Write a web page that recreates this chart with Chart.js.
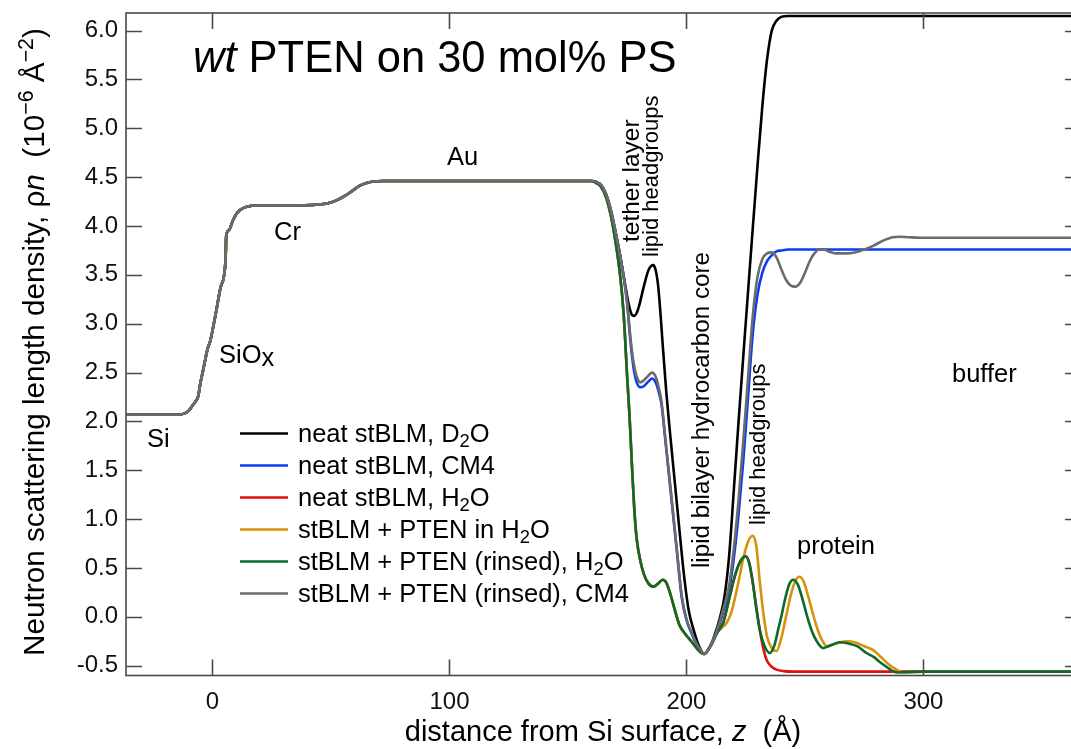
<!DOCTYPE html>
<html>
<head>
<meta charset="utf-8">
<script src="https://cdn.jsdelivr.net/npm/chart.js@4.4.1/dist/chart.umd.min.js"></script>
<style>
  html, body { margin:0; padding:0; background:#fff; overflow:hidden; }
  #wrap { position:relative; width:1090px; height:749px; }
</style>
</head>
<body>
<div id="wrap"><canvas id="c" width="1090" height="749"></canvas></div>
<script>
// ---------- Data (z in Å, rho in 1e-6 Å^-2) ----------
// substrate part, common to every fit: Si / SiOx / Cr / Au
const zSubstrate   = [-37, -20, -15, -12, -10, -8.5, -7, -6, -5.2, -4, -3, -2, -1, 0, 1.5, 3.5, 5.5, 5.8, 7, 8.5, 10, 12, 15, 18, 30, 45, 50, 53, 56, 59, 62, 65, 68, 72, 100, 150, 160];
const rhoSubstrate = [2.07, 2.07, 2.07, 2.08, 2.11, 2.16, 2.21, 2.26, 2.38, 2.52, 2.64, 2.75, 2.82, 2.93, 3.12, 3.38, 3.64, 3.9, 3.96, 4.05, 4.12, 4.17, 4.2, 4.21, 4.21, 4.22, 4.24, 4.27, 4.31, 4.36, 4.41, 4.44, 4.455, 4.46, 4.46, 4.46, 4.46];

// neat stBLM, D2O
const zD2O   = [162, 164, 166, 168, 170, 172, 174, 175, 176, 177, 178, 179, 180, 182, 184, 186, 187, 188, 189, 190, 191.5, 193, 195, 197, 199, 201, 203, 205, 207.5, 210, 212, 214, 216, 218, 220, 222, 224, 226, 228, 230, 232, 234, 236, 238, 240, 243, 370];
const rhoD2O = [4.45, 4.42, 4.33, 4.17, 3.95, 3.7, 3.42, 3.28, 3.16, 3.09, 3.08, 3.11, 3.18, 3.38, 3.55, 3.6, 3.55, 3.4, 3.12, 2.78, 2.3, 1.9, 1.4, 0.9, 0.42, 0.06, -0.13, -0.28, -0.38, -0.3, -0.18, -0.02, 0.2, 0.62, 1.3, 2.0, 2.67, 3.33, 3.98, 4.62, 5.22, 5.7, 6.0, 6.1, 6.14, 6.15, 6.15];

// neat stBLM, CM4
const zCM4   = [162, 164, 166, 168, 170, 172, 174, 175, 176, 177, 178, 179, 180.5, 182, 184, 185.5, 187, 188, 189.5, 191, 192.5, 194, 196, 198, 200, 202, 204, 206, 207.5, 210, 212, 214, 216, 218, 220, 222, 224, 226, 228, 230, 232, 234, 236, 238, 240, 243, 370];
const rhoCM4 = [4.45, 4.42, 4.33, 4.17, 3.95, 3.7, 3.4, 3.2, 2.92, 2.68, 2.5, 2.4, 2.35, 2.36, 2.41, 2.44, 2.4, 2.33, 2.17, 1.83, 1.48, 1.13, 0.66, 0.2, -0.03, -0.16, -0.27, -0.35, -0.38, -0.31, -0.21, -0.07, 0.09, 0.27, 0.6, 1.05, 1.6, 2.25, 2.9, 3.3, 3.52, 3.64, 3.7, 3.74, 3.75, 3.76, 3.76];

// inner bilayer part shared by the three H2O fits
const zInnerH2O   = [162, 164, 166, 168, 170, 172, 173.5, 175, 176, 177, 178, 179, 180.5, 182, 184, 186, 188, 190, 191.5, 193, 195, 197, 199, 201, 203, 205, 207.5, 210, 213];
const rhoInnerH2O = [4.44, 4.4, 4.3, 4.12, 3.85, 3.5, 3.1, 2.45, 2.05, 1.55, 1.1, 0.8, 0.58, 0.44, 0.34, 0.31, 0.34, 0.38, 0.35, 0.25, 0.08, -0.08, -0.16, -0.22, -0.28, -0.34, -0.38, -0.3, -0.16];

// neat stBLM, H2O (outer part)
const zH2O   = [215.5, 218, 220, 222, 224, 225, 226.5, 228, 229.5, 231, 232.5, 234, 236, 238, 241, 245, 370];
const rhoH2O = [-0.06, 0.18, 0.38, 0.53, 0.61, 0.62, 0.55, 0.35, 0.1, -0.14, -0.33, -0.45, -0.51, -0.54, -0.555, -0.56, -0.56];

// stBLM + PTEN in H2O (outer part)
const zPten   = [215, 217, 219, 221, 222.5, 224, 226, 228, 229.5, 231, 232.5, 234, 236, 238, 240, 242, 244, 246, 247.7, 249.5, 251.5, 253.5, 255.5, 257.5, 259.2, 262, 265, 267.6, 271, 275, 278.8, 281.6, 285, 288.7, 291.5, 295, 300, 370];
const rhoPten = [-0.11, -0.06, 0.05, 0.25, 0.42, 0.6, 0.77, 0.83, 0.72, 0.35, 0.03, -0.2, -0.32, -0.35, -0.22, 0.0, 0.22, 0.37, 0.41, 0.36, 0.2, 0.02, -0.14, -0.25, -0.3, -0.28, -0.26, -0.25, -0.26, -0.3, -0.34, -0.4, -0.48, -0.54, -0.57, -0.565, -0.56, -0.56];

// stBLM + PTEN (rinsed), H2O (outer part)
const zRinsedH2O   = [215.5, 218, 220, 222, 224, 225, 226.5, 228, 229.5, 231, 233, 235.2, 237, 239, 240, 242, 243.5, 245, 247, 249, 251, 253, 255, 257.7, 261, 264.8, 268, 272, 276, 279, 282, 285.5, 288.7, 292, 300, 370];
const rhoRinsedH2O = [-0.06, 0.18, 0.38, 0.53, 0.61, 0.62, 0.55, 0.35, 0.08, -0.14, -0.3, -0.37, -0.3, -0.1, 0.0, 0.22, 0.34, 0.38, 0.33, 0.18, 0.0, -0.15, -0.25, -0.32, -0.29, -0.26, -0.27, -0.3, -0.37, -0.41, -0.47, -0.53, -0.57, -0.565, -0.56, -0.56];

// stBLM + PTEN (rinsed), CM4
const zRinsedCM4   = [162, 164, 166, 168, 170, 172, 174, 175, 176, 177, 178, 179, 180.5, 182, 184, 185.5, 187, 188, 189.5, 191, 192.5, 194, 196, 198, 200, 202, 204, 206, 207.5, 210, 212, 214, 216, 218, 220, 222, 224, 226, 228, 230, 232, 234, 236, 238, 240, 242, 244, 246, 248, 250, 252, 254, 256, 258, 260, 263, 267, 271, 275, 279, 283, 287, 290, 294, 300, 370];
const rhoRinsedCM4 = [4.45, 4.42, 4.33, 4.17, 3.95, 3.7, 3.4, 3.22, 2.95, 2.72, 2.56, 2.46, 2.40, 2.42, 2.47, 2.5, 2.46, 2.38, 2.2, 1.85, 1.5, 1.15, 0.68, 0.22, -0.02, -0.15, -0.26, -0.34, -0.38, -0.3, -0.2, -0.05, 0.12, 0.32, 0.7, 1.2, 1.8, 2.45, 3.08, 3.48, 3.66, 3.72, 3.73, 3.68, 3.56, 3.45, 3.39, 3.38, 3.42, 3.52, 3.64, 3.72, 3.76, 3.76, 3.74, 3.72, 3.72, 3.73, 3.76, 3.8, 3.85, 3.885, 3.89, 3.885, 3.88, 3.88];

const seriesLabels = ['neat stBLM, D₂O', 'neat stBLM, CM4', 'neat stBLM, H₂O', 'stBLM + PTEN in H₂O', 'stBLM + PTEN (rinsed), H₂O', 'stBLM + PTEN (rinsed), CM4'];
const seriesColors = ['#000000', '#0a3cf5', '#e0100c', '#d8920a', '#0b6a2c', '#6b6b6b'];
const drawOrder    = [5, 4, 3, 2, 1, 0];   // lower = on top

const xTicks = [0, 100, 200, 300];
const yTicks = [-0.5, 0, 0.5, 1, 1.5, 2, 2.5, 3, 3.5, 4, 4.5, 5, 5.5, 6];

// ---------- Helpers ----------
const FONT = "'Liberation Sans', Arial, Helvetica, sans-serif";
function pts(zs, rs){ return zs.map((z,i)=>({x:z, y:rs[i]})); }
function profile(...pairs){
  let out = pts(zSubstrate, rhoSubstrate);
  for (const [zs, rs] of pairs) out = out.concat(pts(zs, rs));
  return out;
}

// rich text: parts = [[text, flags]] ; flags: i=italic, b=sub, p=sup, d=slightly lowered
function richWidth(ctx, parts, size){
  let w = 0;
  for (const [t, f=''] of parts){
    const s = (f.includes('b')||f.includes('p')) ? size*0.72 : size;
    ctx.font = (f.includes('i')?'italic ':'') + s + 'px ' + FONT;
    w += ctx.measureText(t).width;
  }
  return w;
}
function drawRich(ctx, parts, x, y, size){
  for (const [t, f=''] of parts){
    const small = f.includes('b')||f.includes('p');
    const s = small ? size*0.72 : size;
    ctx.font = (f.includes('i')?'italic ':'') + s + 'px ' + FONT;
    let dy = 0;
    if (f.includes('b')) dy = size*0.2;
    if (f.includes('p')) dy = -size*0.38;
    if (f.includes('d')) dy = size*0.11;
    ctx.fillText(t, x, y + dy);
    x += ctx.measureText(t).width;
  }
}
function labelParts(label){
  return label.split(/(₂)/).filter(s=>s).map(s => s==='₂' ? ['2','b'] : [s,'']);
}
function rotatedText(ctx, parts, x, y, size){
  ctx.save();
  ctx.translate(x, y);
  ctx.rotate(-Math.PI/2);
  drawRich(ctx, parts, 0, 0, size);
  ctx.restore();
}

// ---------- Decorations: frame, inward ticks, titles, labels, legend ----------
const decor = {
  id: 'decor',
  afterDraw(chart){
    const {ctx, chartArea:{left, right, top, bottom}, scales:{x, y}} = chart;
    ctx.save();
    ctx.strokeStyle = '#4a4a4a';
    ctx.lineWidth = 1.6;
    ctx.strokeRect(left, top, right-left, bottom-top);
    ctx.beginPath();
    for (const v of xTicks){
      const px = Math.round(x.getPixelForValue(v)) + 0.5;
      ctx.moveTo(px, bottom); ctx.lineTo(px, bottom-16);
      ctx.moveTo(px, top); ctx.lineTo(px, top+16);
    }
    for (const v of yTicks){
      const py = Math.round(y.getPixelForValue(v)) + 0.5;
      ctx.moveTo(left, py); ctx.lineTo(left+16, py);
      ctx.moveTo(right, py); ctx.lineTo(right-16, py);
    }
    ctx.stroke();

    ctx.fillStyle = '#000';
    ctx.textBaseline = 'alphabetic';
    ctx.textAlign = 'left';

    // chart title
    drawRich(ctx, [['wt','i'], [' PTEN on 30 mol% PS']], 193, 72, 43.5);

    // axis titles
    const xt = [['distance from Si surface, '], ['z','i'], ['  (Å)']];
    drawRich(ctx, xt, 603 - richWidth(ctx, xt, 29)/2, 741, 29);
    const yt = [['Neutron scattering length density, ρ'], ['n','i'], ['  (10'], ['−6','p'], [' Å'], ['−2','p'], [')']];
    rotatedText(ctx, yt, 44, 342 + richWidth(ctx, yt, 29.7)/2, 29.7);

    // region labels
    drawRich(ctx, [['Au']], 447, 165, 25.5);
    drawRich(ctx, [['Cr']], 274, 240, 25.5);
    drawRich(ctx, [['SiO'], ['x','d']], 219, 363, 25.5);
    drawRich(ctx, [['Si']], 147, 447, 25.5);
    drawRich(ctx, [['buffer']], 952, 382, 25.5);
    drawRich(ctx, [['protein']], 797, 554, 25.5);
    rotatedText(ctx, [['tether layer']], 639, 242, 24.5);
    rotatedText(ctx, [['lipid headgroups']], 658, 257, 22);
    rotatedText(ctx, [['lipid bilayer hydrocarbon core']], 709, 568, 24.2);
    rotatedText(ctx, [['lipid headgroups']], 765, 525, 22);

    // legend
    chart.data.datasets.forEach((ds, i) => {
      const by = 442 + i*32;
      ctx.strokeStyle = ds.borderColor;
      ctx.lineWidth = 2.6;
      ctx.beginPath(); ctx.moveTo(240, by-8.5); ctx.lineTo(288, by-8.5); ctx.stroke();
      ctx.fillStyle = '#000';
      drawRich(ctx, labelParts(ds.label), 298, by, 25.5);
    });
    ctx.restore();
  }
};

// ---------- Chart ----------
const profiles = [
  profile([zD2O, rhoD2O]),
  profile([zCM4, rhoCM4]),
  profile([zInnerH2O, rhoInnerH2O], [zH2O, rhoH2O]),
  profile([zInnerH2O, rhoInnerH2O], [zPten, rhoPten]),
  profile([zInnerH2O, rhoInnerH2O], [zRinsedH2O, rhoRinsedH2O]),
  profile([zRinsedCM4, rhoRinsedCM4])
];

new Chart(document.getElementById('c'), {
  type: 'line',
  data: {
    datasets: profiles.map((d, i) => ({
      label: seriesLabels[i],
      data: d,
      borderColor: seriesColors[i],
      backgroundColor: seriesColors[i],
      borderWidth: 2.6,
      pointRadius: 0,
      fill: false,
      cubicInterpolationMode: 'monotone',
      order: drawOrder[i]
    }))
  },
  options: {
    responsive: false,
    animation: false,
    events: [],
    layout: { padding: { left: 0, top: 13, right: 9, bottom: 0 } },
    plugins: { legend: { display: false }, tooltip: { enabled: false } },
    scales: {
      x: {
        type: 'linear', min: -36.5, max: 366.5,
        border: { display: false },
        grid: { display: false, drawTicks: false },
        ticks: { autoSkip: false, maxRotation: 0, padding: 12,
                 color: '#111', font: { family: FONT, size: 24 } },
        afterBuildTicks: s => { s.ticks = xTicks.map(v => ({ value: v })); },
        afterFit: s => { s.height = 73.5; s.paddingLeft = 0; s.paddingRight = 0; }
      },
      y: {
        type: 'linear', min: -0.6, max: 6.18,
        border: { display: false },
        grid: { display: false, drawTicks: false },
        ticks: { autoSkip: false, padding: 8,
                 color: '#111', font: { family: FONT, size: 24 },
                 callback: v => v.toFixed(1) },
        afterBuildTicks: s => { s.ticks = yTicks.map(v => ({ value: v })); },
        afterFit: s => { s.width = 126; s.paddingTop = 0; s.paddingBottom = 0; }
      }
    }
  },
  plugins: [decor]
});
</script>
</body>
</html>
